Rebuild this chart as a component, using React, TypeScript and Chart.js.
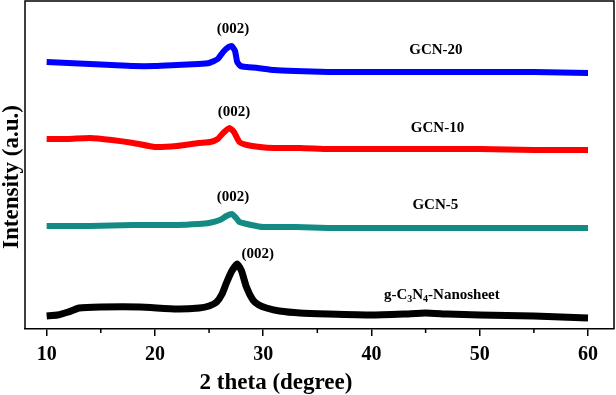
import React, { useEffect, useRef } from 'react';
import { Chart, registerables } from 'chart.js';

Chart.register(...registerables);

const FONT = '"Liberation Serif", "Times New Roman", Times, serif';

const X_MIN = 8;
const X_MAX = 62.4;
const X_TICKS = [10, 15, 20, 25, 30, 35, 40, 45, 50, 55, 60];
const Y_MIN = 0;
const Y_MAX = 328;

const X_TITLE = '2 theta (degree)';
const Y_TITLE = 'Intensity (a.u.)';

const gcn20X = [10, 12, 14, 16, 18, 20, 22, 24, 25, 25.8, 26.3, 26.8, 27.1, 27.4, 27.6, 27.9, 28.5, 29.5, 31, 33, 36, 40, 45, 50, 55, 60];
const gcn20Y = [267, 266, 265, 264, 263, 263, 264, 265, 266, 270, 277, 282, 283, 278, 267, 263, 262, 261, 259, 258, 257, 257, 257, 257, 257, 256];

const gcn10X = [10, 12, 14, 16, 18, 20, 22, 24, 25.1, 25.8, 26.3, 26.9, 27.3, 27.8, 28.5, 29.7, 31, 33.4, 36, 40, 45, 50, 55, 60];
const gcn10Y = [190, 190, 191, 189, 186, 182, 183, 186, 187, 190, 196, 201, 197, 187, 184, 182, 181, 181, 180, 180, 180, 180, 179, 179];

const gcn5X = [10, 14, 18, 20, 22, 24, 25, 26, 26.6, 27.1, 27.5, 27.8, 28.9, 30, 33, 36, 40, 45, 50, 55, 60];
const gcn5Y = [103, 103, 104, 104, 104, 105, 106, 109, 113, 115, 111, 107, 104, 102, 102, 101, 101, 101, 101, 101, 101];

const nanoX = [10, 11, 12, 13, 15, 18.6, 22, 24.1, 25, 25.7, 26.2, 26.6, 27.1, 27.6, 28, 28.45, 29.05, 29.6, 30.3, 31.5, 33.4, 36, 40, 43, 45, 47, 50, 55, 60];
const nanoY = [13, 14, 17, 21, 22, 22, 20, 21, 23, 27, 35, 46, 58, 65, 58, 42, 29, 24, 21, 18, 16, 15, 14, 15, 16, 15, 14, 13, 11];

const SERIES_NAMES = ['GCN-20', 'GCN-10', 'GCN-5', 'g-C3N4-Nanosheet'];
const SERIES_COLORS = ['#0000ff', '#ff0000', '#148a85', '#000000'];

// annotation anchors in data units [x, y]
const PEAK_LABEL = '(002)';
const PEAK_LABEL_POS = [[27.2, 300], [27.3, 217], [27.2, 132], [29.5, 75]];
const NAME_LABEL_POS = [[45.95, 279], [46.1, 201], [45.9, 124], [46.5, 34]];

const toPts = (xs: number[], ys: number[]) => xs.map((x, i) => ({ x, y: ys[i] }));

const decorPlugin = {
  id: 'decor',
  afterDraw(chart: any) {
    const { ctx, chartArea, scales } = chart;
    const xs = scales.x;
    const ys = scales.y;
    ctx.save();
    ctx.strokeStyle = '#000';
    ctx.lineWidth = 1.5;
    // frame: left, top, right
    ctx.beginPath();
    ctx.moveTo(chartArea.left, chartArea.bottom);
    ctx.lineTo(chartArea.left, chartArea.top);
    ctx.lineTo(chartArea.right, chartArea.top);
    ctx.lineTo(chartArea.right, chartArea.bottom);
    ctx.stroke();
    // minor ticks
    ctx.beginPath();
    X_TICKS.filter((v) => v % 10 !== 0).forEach((v) => {
      const px = xs.getPixelForValue(v);
      ctx.moveTo(px, chartArea.bottom);
      ctx.lineTo(px, chartArea.bottom + 4);
    });
    ctx.stroke();

    ctx.fillStyle = '#000';
    // y title
    ctx.save();
    ctx.translate(12, 177);
    ctx.rotate(-Math.PI / 2);
    ctx.font = `bold 23px ${FONT}`;
    ctx.textAlign = 'center';
    ctx.textBaseline = 'middle';
    ctx.fillText(Y_TITLE, 0, 0);
    ctx.restore();

    // x title
    ctx.font = `bold 23px ${FONT}`;
    ctx.textAlign = 'center';
    ctx.textBaseline = 'alphabetic';
    ctx.fillText(X_TITLE, 276, 389);

    // peak labels
    ctx.font = `bold 15px ${FONT}`;
    ctx.textAlign = 'center';
    ctx.textBaseline = 'middle';
    PEAK_LABEL_POS.forEach(([x, y]) => {
      ctx.fillText(PEAK_LABEL, xs.getPixelForValue(x), ys.getPixelForValue(y));
    });

    // series names
    NAME_LABEL_POS.forEach(([x, y], i) => {
      const px = xs.getPixelForValue(x);
      const py = ys.getPixelForValue(y);
      const name = SERIES_NAMES[i];
      if (name === 'g-C3N4-Nanosheet') {
        const segs = [
          { t: 'g-C', sub: false },
          { t: '3', sub: true },
          { t: 'N', sub: false },
          { t: '4', sub: true },
          { t: '-Nanosheet', sub: false },
        ];
        const big = `bold 15px ${FONT}`;
        const small = `bold 10px ${FONT}`;
        let total = 0;
        segs.forEach((s) => {
          ctx.font = s.sub ? small : big;
          total += ctx.measureText(s.t).width;
        });
        let cx = px - total / 2;
        ctx.textAlign = 'left';
        segs.forEach((s) => {
          ctx.font = s.sub ? small : big;
          ctx.fillText(s.t, cx, s.sub ? py + 4 : py);
          cx += ctx.measureText(s.t).width;
        });
        ctx.textAlign = 'center';
      } else {
        ctx.font = `bold 15px ${FONT}`;
        ctx.fillText(name, px, py);
      }
    });
    ctx.restore();
  },
};

export default function App() {
  const ref = useRef<HTMLCanvasElement | null>(null);
  useEffect(() => {
    if (!ref.current) return;
    const seriesX = [gcn20X, gcn10X, gcn5X, nanoX];
    const seriesY = [gcn20Y, gcn10Y, gcn5Y, nanoY];
    const chart = new Chart(ref.current, {
      type: 'line',
      data: {
        datasets: SERIES_NAMES.map((name, i) => ({
          label: name,
          data: toPts(seriesX[i], seriesY[i]),
          borderColor: SERIES_COLORS[i],
          backgroundColor: SERIES_COLORS[i],
          borderWidth: i === 3 ? 7 : 6,
          pointRadius: 0,
          tension: 0.15,
          fill: false,
        })),
      },
      options: {
        responsive: false,
        animation: false,
        layout: { padding: { left: 25, right: 2, top: 1, bottom: 0 } },
        plugins: { legend: { display: false }, tooltip: { enabled: false } },
        scales: {
          x: {
            type: 'linear',
            min: X_MIN,
            max: X_MAX,
            afterBuildTicks: (s: any) => {
              s.ticks = X_TICKS.map((v) => ({ value: v }));
            },
            afterFit: (s: any) => {
              s.height = 66;
            },
            ticks: {
              autoSkip: false,
              maxRotation: 0,
              color: '#000',
              padding: 7,
              font: { family: FONT, size: 20, weight: 'bold' },
              callback: (v: any) => (Number(v) % 10 === 0 ? String(v) : ''),
            },
            grid: {
              display: true,
              drawOnChartArea: false,
              drawTicks: true,
              tickLength: 7,
              lineWidth: 1.5,
              color: (c: any) => (c.tick && c.tick.value % 10 === 0 ? '#000' : 'rgba(0,0,0,0)'),
            },
            border: { display: true, color: '#000', width: 1.5 },
            title: { display: false },
          },
          y: { type: 'linear', min: Y_MIN, max: Y_MAX, display: false },
        },
      },
      plugins: [decorPlugin],
    } as any);
    return () => chart.destroy();
  }, []);
  return (
    <div style={{ position: 'absolute', left: 0, top: 0, width: 616, height: 395, background: '#fff' }}>
      <canvas ref={ref} width={616} height={395} style={{ display: 'block' }} />
    </div>
  );
}
